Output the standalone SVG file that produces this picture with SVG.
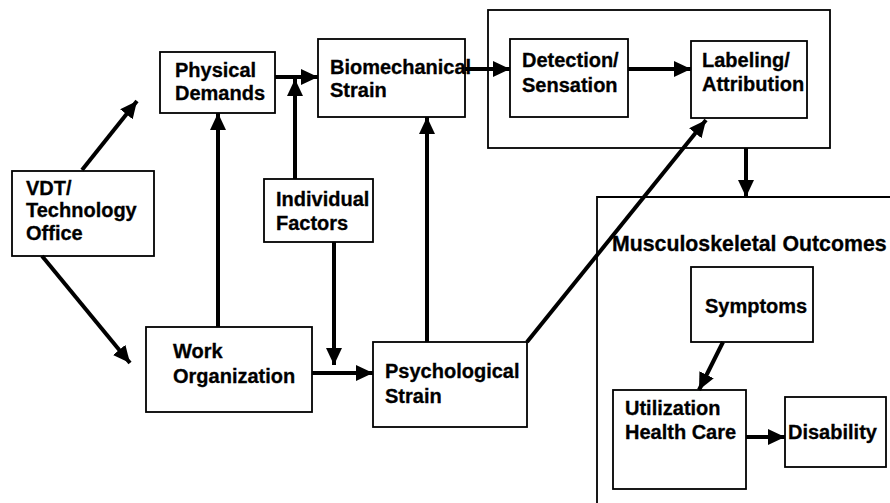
<svg xmlns="http://www.w3.org/2000/svg" width="890" height="503" viewBox="0 0 890 503">
  <defs>
    <style>
      .box { fill: #ffffff; stroke: #000000; stroke-width: 1.8; }
      .frame { fill: none; stroke: #000000; stroke-width: 1.8; }
      .lbl { font-family: "Liberation Sans", Arial, sans-serif; font-weight: bold; font-size: 20px; fill: #000000; stroke: #000000; stroke-width: 0.3; }
      .title { font-size: 21.3px; }
      .edge { fill: none; stroke: #000000; stroke-width: 4; marker-end: url(#head); }
    </style>
    <marker id="head" markerUnits="userSpaceOnUse" markerWidth="18" markerHeight="16" refX="17" refY="8" orient="auto">
      <path d="M0,0 L17,8 L0,16 Z" fill="#000000"/>
    </marker>
  </defs>

  <rect width="890" height="503" fill="#ffffff"/>

  <!-- perception frame and outcomes frame -->
  <g id="perception">
    <rect class="frame" x="488" y="10" width="342" height="138"/>
  </g>
  <g id="outcomes">
    <path class="frame" d="M597,503 V197 H890"/>
    <text class="lbl title" x="612" y="251">Musculoskeletal Outcomes</text>
  </g>

  <g id="vdt">
    <rect class="box" x="12" y="171" width="142" height="85"/>
    <text class="lbl" x="26" y="195">VDT/</text>
    <text class="lbl" x="26" y="217">Technology</text>
    <text class="lbl" x="26" y="240">Office</text>
  </g>

  <g id="physical-demands">
    <rect class="box" x="160" y="52" width="115" height="61"/>
    <text class="lbl" x="175" y="77">Physical</text>
    <text class="lbl" x="175" y="100">Demands</text>
  </g>

  <g id="biomechanical-strain">
    <rect class="box" x="318" y="39" width="147" height="78"/>
    <text class="lbl" x="330" y="74">Biomechanical</text>
    <text class="lbl" x="330" y="97">Strain</text>
  </g>

  <g id="individual-factors">
    <rect class="box" x="264" y="179" width="109" height="63"/>
    <text class="lbl" x="276" y="206">Individual</text>
    <text class="lbl" x="276" y="230">Factors</text>
  </g>

  <g id="work-organization">
    <rect class="box" x="146" y="327" width="166" height="85"/>
    <text class="lbl" x="173" y="358">Work</text>
    <text class="lbl" x="173" y="383">Organization</text>
  </g>

  <g id="psychological-strain">
    <rect class="box" x="373" y="342" width="154" height="85"/>
    <text class="lbl" x="385" y="378">Psychological</text>
    <text class="lbl" x="385" y="403">Strain</text>
  </g>

  <g id="detection-sensation">
    <rect class="box" x="510" y="39" width="118" height="78"/>
    <text class="lbl" x="522" y="67">Detection/</text>
    <text class="lbl" x="522" y="92">Sensation</text>
  </g>

  <g id="labeling-attribution">
    <rect class="box" x="691" y="41" width="116" height="77"/>
    <text class="lbl" x="702" y="67">Labeling/</text>
    <text class="lbl" x="702" y="91">Attribution</text>
  </g>

  <g id="symptoms">
    <rect class="box" x="691" y="267" width="122" height="75"/>
    <text class="lbl" x="705" y="313">Symptoms</text>
  </g>

  <g id="utilization-health-care">
    <rect class="box" x="613" y="390" width="133" height="99"/>
    <text class="lbl" x="625" y="415">Utilization</text>
    <text class="lbl" x="625" y="439">Health Care</text>
  </g>

  <g id="disability">
    <rect class="box" x="785" y="397" width="101" height="70"/>
    <text class="lbl" x="788" y="439">Disability</text>
  </g>

  <g id="connectors">
    <line class="edge" x1="82" y1="170" x2="137" y2="101"/>
    <line class="edge" x1="42" y1="256" x2="130" y2="363"/>
    <line class="edge" x1="218" y1="327" x2="218" y2="113"/>
    <line class="edge" x1="275" y1="77" x2="318" y2="77"/>
    <line class="edge" x1="295" y1="179" x2="295" y2="79"/>
    <line class="edge" x1="334" y1="242" x2="334" y2="365"/>
    <line class="edge" x1="312" y1="373" x2="373" y2="373"/>
    <line class="edge" x1="427" y1="342" x2="427" y2="117"/>
    <line class="edge" x1="465" y1="69" x2="510" y2="69"/>
    <line class="edge" x1="628" y1="69" x2="691" y2="69"/>
    <line class="edge" x1="527" y1="342" x2="706" y2="120"/>
    <line class="edge" x1="746" y1="148" x2="746" y2="197"/>
    <line class="edge" x1="723" y1="342" x2="699" y2="390"/>
    <line class="edge" x1="746" y1="437" x2="785" y2="437"/>
  </g>
</svg>
